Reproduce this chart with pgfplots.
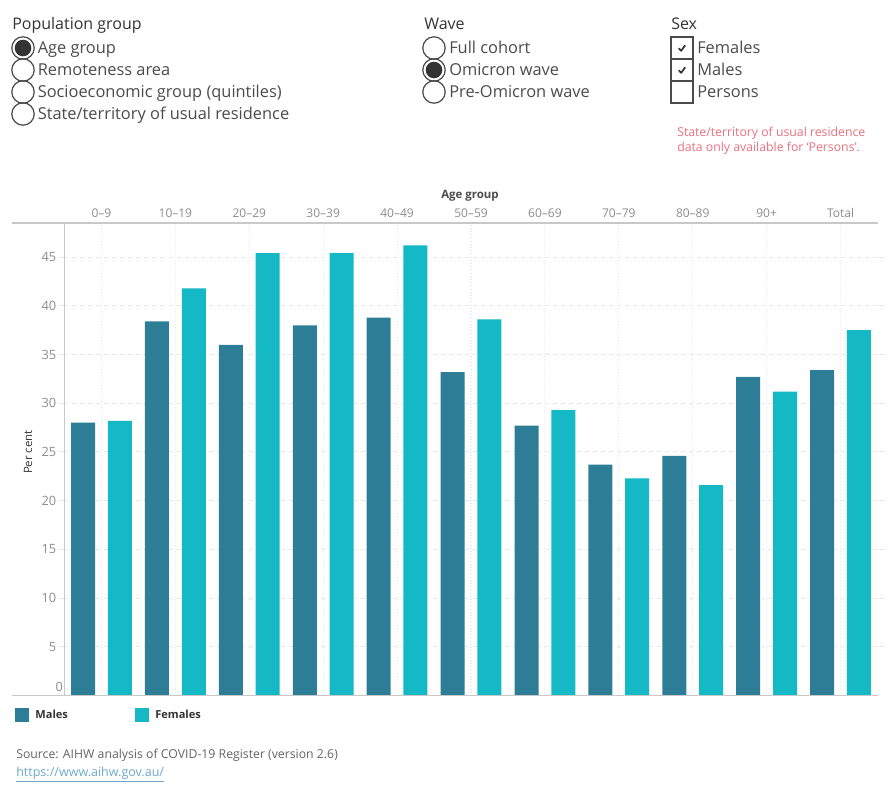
\documentclass[border=0pt]{standalone}
\usepackage{pgfplots}
\pgfplotsset{compat=1.18}
\usepackage{fontspec}
\setmainfont{Open Sans}
\definecolor{males}{RGB}{46,125,151}
\definecolor{females}{RGB}{20,185,197}
\definecolor{head}{RGB}{51,51,51}
\definecolor{lbl}{RGB}{75,75,75}
\definecolor{tick}{RGB}{140,140,140}
\definecolor{frame}{RGB}{200,200,200}
\definecolor{grid}{RGB}{232,232,232}
\definecolor{note}{RGB}{232,112,127}
\definecolor{link}{RGB}{110,168,204}
\definecolor{src}{RGB}{100,100,100}

\pgfplotstableread{
x  males females
0  28.0  28.2
1  38.4  41.8
2  36.0  45.4
3  38.0  45.4
4  38.8  46.2
5  33.2  38.6
6  27.7  29.3
7  23.7  22.3
8  24.6  21.6
9  32.7  31.2
10 33.4  37.5
}\agedata

\begin{document}
\begin{tikzpicture}
\begin{scope}[x=0.75pt,y=-0.75pt]
\path[use as bounding box] (0,0) rectangle (890,800);

% filter panel: population group
\node[anchor=base west,inner sep=0,text=head,font=\fontsize{12}{14}\selectfont] at (12,29.5) {Population group};
\foreach \t [count=\i from 0] in {Age group,Remoteness area,Socioeconomic group (quintiles),State/territory of usual residence}{
  \draw[lbl,line width=0.9] (23,48+22*\i) circle (11.2);
  \node[anchor=base west,inner sep=0,text=lbl,font=\fontsize{12.3}{14}\selectfont] at (37.5,53.3+22*\i) {\t};
}
\fill[head] (23,48) circle (8.3);

% filter panel: wave
\node[anchor=base west,inner sep=0,text=head,font=\fontsize{12}{14}\selectfont] at (424,29.5) {Wave};
\foreach \t [count=\i from 0] in {Full cohort,Omicron wave,Pre-Omicron wave}{
  \draw[lbl,line width=0.9] (434,48+22*\i) circle (11.2);
  \node[anchor=base west,inner sep=0,text=lbl,font=\fontsize{12.3}{14}\selectfont] at (449,53.3+22*\i) {\t};
}
\fill[head] (434,70) circle (8.3);

% filter panel: sex
\node[anchor=base west,inner sep=0,text=head,font=\fontsize{12}{14}\selectfont] at (671,29.5) {Sex};
\foreach \t [count=\i from 0] in {Females,Males,Persons}{
  \draw[lbl,line width=0.9] (671,37+22*\i) rectangle (693,59+22*\i);
  \node[anchor=base west,inner sep=0,text=lbl,font=\fontsize{12.3}{14}\selectfont] at (697,53.3+22*\i) {\t};
}
\foreach \i in {0,1}{
  \draw[head,line width=1.3,line cap=round,line join=round] (679,48.5+22*\i) -- (681.2,50.8+22*\i) -- (685,45.5+22*\i);
}
\node[anchor=base west,inner sep=0,text=note,font=\fontsize{9.2}{11}\selectfont] at (677,136.7) {State/territory of usual residence};
\node[anchor=base west,inner sep=0,text=note,font=\fontsize{9.2}{11}\selectfont] at (677,151.7) {data only available for `Persons'.};

% chart title row
\node[anchor=base,inner sep=0,text=lbl,font=\bfseries\fontsize{8.6}{10}\selectfont] at (470,198) {Age group};
\node[rotate=90,inner sep=0,text=head,font=\fontsize{8.6}{10}\selectfont] at (28,452) {Per cent};
\end{scope}

\begin{axis}[
  at={(48.375pt,-521.625pt)}, anchor=south west,
  scale only axis, width=609.75pt, height=354.375pt,
  xmin=-0.5, xmax=10.5, ymin=0, ymax=48.5,
  ybar, bar width=18pt,
  /pgf/number format/assume math mode=true,
  axis line style={draw=none},
  xtick={0,...,10},
  xticklabels={0–9,10–19,20–29,30–39,40–49,50–59,60–69,70–79,80–89,90+,Total},
  xticklabel pos=upper,
  xtick style={draw=none},
  xticklabel style={text=tick,font=\fontsize{9}{10}\selectfont,inner sep=0pt,anchor=base,yshift=-0.5pt},
  ytick={5,10,...,45},
  extra y ticks={0.85},
  extra y tick labels={0},
  extra y tick style={major tick length=0pt,grid=none},
  ytick style={draw=grid,line width=0.8pt},
  major tick length=5pt, tick align=outside,
  yticklabel style={text=tick,font=\fontsize{9.6}{11}\selectfont,inner sep=0pt,anchor=east,xshift=-1pt},
  xmajorgrids, ymajorgrids,
  x grid style={grid,dotted,line width=0.8pt},
  y grid style={grid,dashed,line width=0.8pt},
  legend columns=2,
  legend style={at={(-0.0615,-0.024)},anchor=north west,draw=none,fill=none,
    font=\bfseries\fontsize{8.3}{10}\selectfont,text=head,
    /tikz/every odd column/.append style={column sep=3pt},
    /tikz/every even column/.append style={column sep=48pt},
    legend cell align=left, inner sep=0pt, nodes={inner sep=2pt}},
  legend image code/.code={\fill[#1] (0pt,-5.25pt) rectangle (10.5pt,5.25pt);},
  clip=false,
]
\addplot[fill=males,draw=none,bar shift=-13.8pt] table[x=x,y=males]{\agedata};
\addplot[fill=females,draw=none,bar shift=13.8pt] table[x=x,y=females]{\agedata};
\legend{Males,Females}
\end{axis}

\begin{scope}[x=0.75pt,y=-0.75pt]
\draw[frame,line width=0.9] (12,223) -- (877.5,223);
\draw[frame,line width=0.9] (12,695.5) -- (877.5,695.5);
\draw[frame,line width=0.9] (64.5,223) -- (64.5,695.5);
\node[anchor=base west,inner sep=0,text=src,font=\fontsize{9.2}{11}\selectfont] at (16,758) {Source: AIHW analysis of COVID-19 Register (version 2.6)};
\node[anchor=base west,inner sep=0,text=link,font=\fontsize{9.4}{11}\selectfont] at (16,776) {\underline{https://www.aihw.gov.au/}};
\end{scope}
\end{tikzpicture}
\end{document}
